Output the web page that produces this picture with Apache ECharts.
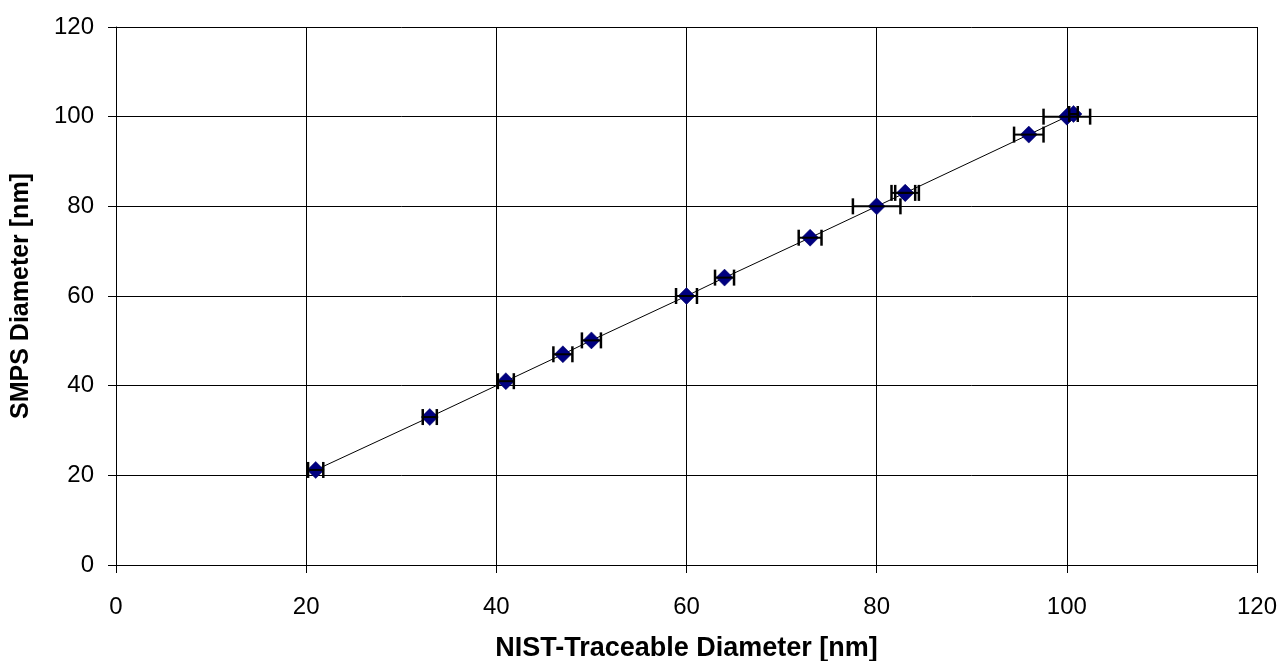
<!DOCTYPE html>
<html>
<head>
<meta charset="utf-8">
<script src="https://cdn.jsdelivr.net/npm/echarts@6/dist/echarts.min.js"></script>
<style>
html,body{margin:0;padding:0;background:#fff;}
#main{width:1281px;height:661px;}
</style>
</head>
<body>
<div id="main"></div>
<script>
var nistDiameter = [21, 33, 41, 47, 50, 60, 64, 73, 80, 83, 83, 96, 100, 100.7];
var smpsDiameter = [21.2, 33, 41, 47, 50.1, 60, 64.1, 73, 80, 83, 83, 96, 100, 100.6];
var xError = [0.8, 0.74, 0.84, 1.0, 1.0, 1.1, 1.0, 1.2, 2.5, 1.44, 1.05, 1.55, 2.45, 0.45];
var xTicks = [0, 20, 40, 60, 80, 100, 120];
var yTicks = [0, 20, 40, 60, 80, 100, 120];

var points = nistDiameter.map(function (x, i) { return [x, smpsDiameter[i]]; });
var errData = nistDiameter.map(function (x, i) { return [x, smpsDiameter[i], x - xError[i], x + xError[i]]; });

var chart = echarts.init(document.getElementById('main'));
var font = '"Liberation Sans", Arial, sans-serif';
chart.setOption({
  animation: false,
  backgroundColor: '#fff',
  grid: { left: 116, right: 24, top: 27, bottom: 96, containLabel: false, outerBoundsMode: 'none' },
  xAxis: {
    type: 'value', min: 0, max: 120, interval: 20,
    name: 'NIST-Traceable Diameter [nm]', nameLocation: 'middle', nameGap: 70,
    nameTextStyle: { fontFamily: font, fontSize: 27, fontWeight: 'bold', color: '#000' },
    axisLine: { show: true, lineStyle: { color: '#000', width: 1 } },
    axisTick: { show: true, length: 8, lineStyle: { color: '#000' } },
    axisLabel: { fontFamily: font, fontSize: 24, color: '#000', margin: 30,
      formatter: function (v) { return xTicks.indexOf(v) >= 0 ? String(v) : ''; } },
    splitLine: { show: true, lineStyle: { color: '#000', width: 1 } }
  },
  yAxis: {
    type: 'value', min: 0, max: 120, interval: 20,
    name: 'SMPS Diameter [nm]', nameLocation: 'middle', nameGap: 82,
    nameTextStyle: { fontFamily: font, fontSize: 25, fontWeight: 'bold', color: '#000' },
    axisLine: { show: true, lineStyle: { color: '#000', width: 1 } },
    axisTick: { show: true, length: 8, lineStyle: { color: '#000' } },
    axisLabel: { fontFamily: font, fontSize: 24, color: '#000', margin: 22,
      formatter: function (v) { return yTicks.indexOf(v) >= 0 ? String(v) : ''; } },
    splitLine: { show: true, lineStyle: { color: '#000', width: 1 } }
  },
  series: [
    {
      type: 'line', data: points, showSymbol: false, symbol: 'none',
      lineStyle: { color: '#000', width: 1 }, z: 2
    },
    {
      type: 'scatter', data: points, symbol: 'diamond', symbolSize: 17,
      itemStyle: { color: '#000080', borderColor: '#000060', borderWidth: 0.5, opacity: 1 }, z: 3
    },
    {
      type: 'custom', z: 4,
      data: errData,
      renderItem: function (params, api) {
        var y = api.value(1);
        var lo = api.coord([api.value(2), y]);
        var hi = api.coord([api.value(3), y]);
        var h = 8;
        return {
          type: 'group',
          children: [
            { type: 'line', shape: { x1: lo[0], y1: lo[1], x2: hi[0], y2: hi[1] }, style: { stroke: '#000', lineWidth: 2 } },
            { type: 'line', shape: { x1: lo[0], y1: lo[1] - h, x2: lo[0], y2: lo[1] + h }, style: { stroke: '#000', lineWidth: 2.5 } },
            { type: 'line', shape: { x1: hi[0], y1: hi[1] - h, x2: hi[0], y2: hi[1] + h }, style: { stroke: '#000', lineWidth: 2.5 } }
          ]
        };
      }
    }
  ]
});
</script>
</body>
</html>
